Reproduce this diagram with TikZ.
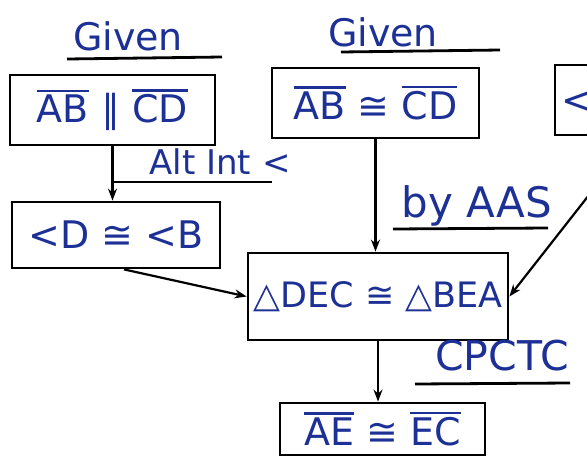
\documentclass[tikz,border=0pt]{standalone}
\usepackage{fontspec}
\setmainfont{DejaVu Sans}
\usetikzlibrary{arrows.meta}
\definecolor{ink}{RGB}{28,48,150}
\newcommand\segm[1]{\setbox0\hbox{#1}\vbox{\hrule height 2.6pt\kern 3pt\box0}}
\begin{document}
\begin{tikzpicture}[x=1pt,y=-1pt,
  box/.style={draw=black, line width=2.8pt, inner sep=0pt, text=ink, font=\fontsize{38}{42}\selectfont},
  lbl/.style={text=ink, inner sep=0pt, font=\fontsize{38}{42}\selectfont},
  uline/.style={line width=2.8pt},
  conn/.style={line width=2.2pt, -{Stealth[length=12pt,width=9pt]}}]
\useasboundingbox (0,0) rectangle (587,461);
\fill[white] (0,0) rectangle (587,461);
% boxes
\node[box, minimum width=205pt, minimum height=70pt] (b1) at (112.5,110) {\segm{AB} ∥ \segm{CD}};
\node[box, minimum width=207pt, minimum height=70pt] (b2) at (375.5,103) {\segm{AB} ≅ \segm{CD}};
\node[box, minimum width=160pt, minimum height=70pt, text width=148pt, align=left] (b3) at (635,100) {<A};
\node[box, minimum width=208pt, minimum height=66pt] (b4) at (116,235) {<D ≅ <B};
\node[box, minimum width=260pt, minimum height=87pt, font=\fontsize{35}{40}\selectfont] (b5) at (378,296.5) {△DEC ≅ △BEA};
\node[box, minimum width=205pt, minimum height=52pt] (b6) at (382.5,429) {\segm{AE} ≅ \segm{EC}};
% labels
\node[lbl] (g1) at (128,36) {Given};
\draw[uline] (67,59) -- (222,57);
\node[lbl] (g2) at (383,32) {Given};
\draw[uline] (341,52) -- (500,50);
\node[lbl, font=\fontsize{34}{38}\selectfont] (alt) at (220,162) {Alt Int <};
\coordinate (altend) at (272,182);
\draw[uline] (b1.south |- altend) -- (altend);
\node[lbl, font=\fontsize{42}{46}\selectfont] (aas) at (477,206) {by AAS};
\draw[uline] (393,229) -- (548,228);
\node[lbl, font=\fontsize{41}{45}\selectfont] (cpctc) at (502,356) {CPCTC};
\draw[uline] (415,384) -- (570,383);
% connectors
\draw[conn] (b1.south) -- (b1.south |- b4.north);
\draw[conn] ([xshift=8pt]b4.south) -- (b5.west);
\draw[conn] (b2.south) -- (b2.south |- b5.north);
\draw[conn] (b3.south) -- (b5.east);
\draw[conn] (b5.south) -- (b5.south |- b6.north);
\end{tikzpicture}
\end{document}
